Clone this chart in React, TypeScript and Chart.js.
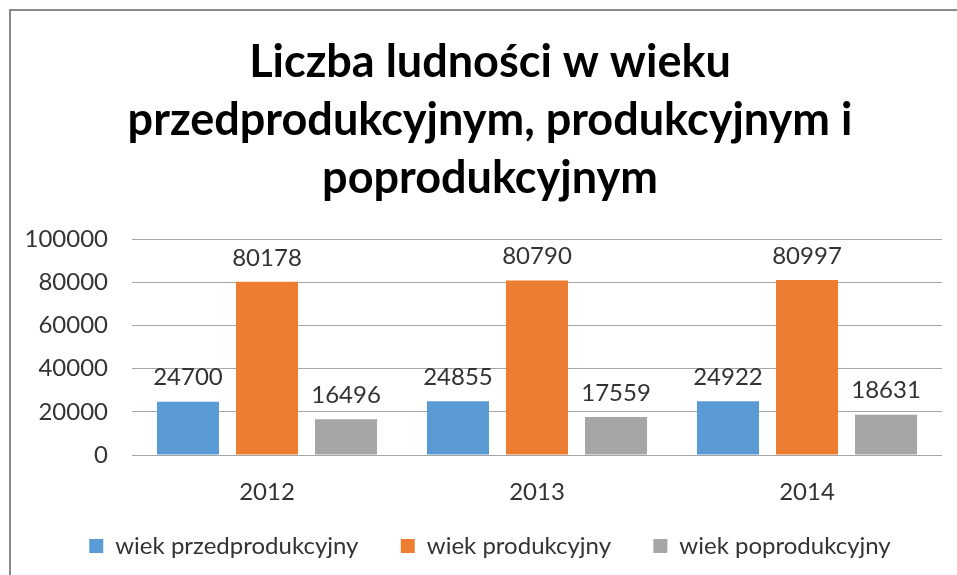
import React, { useEffect, useRef } from "react";
import { Chart, registerables } from "chart.js";

Chart.register(...registerables);

const categories = ["2012", "2013", "2014"];
const przedprodukcyjny = [24700, 24855, 24922];
const produkcyjny = [80178, 80790, 80997];
const poprodukcyjny = [16496, 17559, 18631];
const seriesNames = ["wiek przedprodukcyjny", "wiek produkcyjny", "wiek poprodukcyjny"];
const titleLines = ["Liczba ludności w wieku", "przedprodukcyjnym, produkcyjnym i", "poprodukcyjnym"];
const yMax = 100000;
const yStep = 20000;

const FONT = "Lato, 'Open Sans', sans-serif";
const TEXT = "#333333";

function makeGrayPattern(): CanvasPattern | string {
  const c = document.createElement("canvas");
  c.width = 4;
  c.height = 4;
  const x = c.getContext("2d");
  if (!x) return "#a5a5a5";
  x.fillStyle = "#a6a6a6";
  x.fillRect(0, 0, 4, 4);
  x.fillStyle = "#9e9e9e";
  x.fillRect(0, 0, 1, 1);
  x.fillRect(2, 2, 1, 1);
  x.fillStyle = "#adadad";
  x.fillRect(2, 0, 1, 1);
  x.fillRect(0, 2, 1, 1);
  return x.createPattern(c, "repeat") || "#a5a5a5";
}

const framePlugin = {
  id: "frame",
  beforeDraw(chart: any) {
    const ctx = chart.ctx;
    ctx.save();
    ctx.fillStyle = "#ffffff";
    ctx.fillRect(0, 0, chart.width, chart.height);
    ctx.strokeStyle = "#8a8a8a";
    ctx.lineWidth = 2;
    ctx.beginPath();
    ctx.moveTo(10, chart.height + 5);
    ctx.lineTo(10, 10);
    ctx.lineTo(chart.width + 5, 10);
    ctx.stroke();
    ctx.restore();
  },
};

const valueLabelPlugin = {
  id: "valueLabels",
  afterDatasetsDraw(chart: any) {
    const ctx = chart.ctx;
    ctx.save();
    ctx.font = `24px ${FONT}`;
    ctx.fillStyle = TEXT;
    ctx.textAlign = "center";
    ctx.textBaseline = "middle";
    chart.data.datasets.forEach((ds: any, i: number) => {
      const meta = chart.getDatasetMeta(i);
      meta.data.forEach((bar: any, j: number) => {
        ctx.fillText(String(ds.data[j]), bar.x, bar.y - 24);
      });
    });
    ctx.restore();
  },
};

export default function App() {
  const ref = useRef<HTMLCanvasElement | null>(null);

  useEffect(() => {
    document.body.style.margin = "0";
    if (!ref.current) return;

    // width of widest y tick label, to right-align mirrored labels
    const mc = document.createElement("canvas").getContext("2d");
    let widest = 80;
    if (mc) {
      mc.font = `24px ${FONT}`;
      widest = mc.measureText(String(yMax)).width;
    }
    const yScaleLeft = 38;
    const yScaleWidth = 94;
    const labelRight = 108;
    const yTickPadding = labelRight - (yScaleLeft + yScaleWidth) - widest;

    const chart = new Chart(ref.current, {
      type: "bar",
      data: {
        labels: categories,
        datasets: [
          { label: seriesNames[0], data: przedprodukcyjny, backgroundColor: "#5b9bd5" },
          { label: seriesNames[1], data: produkcyjny, backgroundColor: "#ed7d31" },
          { label: seriesNames[2], data: poprodukcyjny, backgroundColor: makeGrayPattern() as any },
        ],
      },
      options: {
        animation: false,
        responsive: false,
        maintainAspectRatio: false,
        datasets: {
          bar: { categoryPercentage: 0.878, barPercentage: 0.785 },
        },
        layout: { padding: { left: yScaleLeft, right: 15, top: 0, bottom: 7 } },
        scales: {
          x: {
            grid: { display: false, drawTicks: false },
            border: { display: false },
            ticks: { font: { family: FONT, size: 24 }, color: TEXT, padding: 23 },
            afterFit(scale: any) {
              scale.height = 49;
            },
          },
          y: {
            min: 0,
            max: yMax,
            ticks: {
              stepSize: yStep,
              font: { family: FONT, size: 24 },
              color: TEXT,
              mirror: true,
              crossAlign: "far",
              padding: yTickPadding,
              callback: (v: any) => String(v),
            },
            grid: { color: "#a6a6a6", lineWidth: 1, drawTicks: false },
            border: { display: false },
            afterFit(scale: any) {
              scale.width = yScaleWidth;
            },
          },
        },
        plugins: {
          title: {
            display: true,
            text: titleLines,
            color: "#000000",
            font: { family: FONT, size: 45, weight: "bold", lineHeight: 58 / 45 },
            padding: { top: 33, bottom: 32 },
          },
          legend: {
            display: true,
            position: "bottom",
            labels: {
              boxWidth: 14,
              boxHeight: 14,
              padding: 30,
              color: TEXT,
              font: { family: FONT, size: 24 },
              generateLabels(chart: any) {
                const items = Chart.defaults.plugins.legend.labels.generateLabels(chart);
                return items.map((it: any, i: number) =>
                  i < items.length - 1 ? { ...it, text: it.text + "  " } : it
                );
              },
            },
          },
          tooltip: { enabled: false },
        },
      },
      plugins: [framePlugin, valueLabelPlugin],
    });
    return () => chart.destroy();
  }, []);

  return (
    <div style={{ width: 957, height: 575, overflow: "hidden" }}>
      <canvas ref={ref} width={957} height={575} style={{ display: "block", width: 957, height: 575 }} />
    </div>
  );
}
